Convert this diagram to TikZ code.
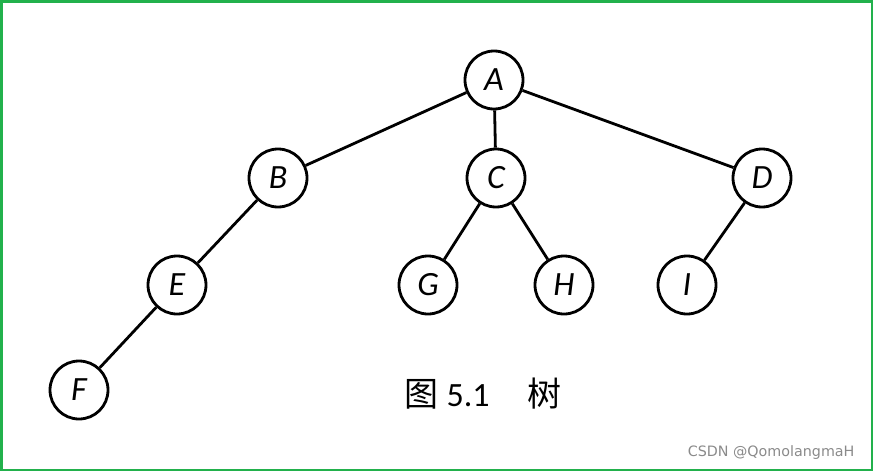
\documentclass[tikz,border=0pt]{standalone}
\usepackage{fontspec}
\setmainfont{Carlito}
\newfontfamily\cjk{Noto Sans CJK SC}
\newfontfamily\wm{DejaVu Sans}
\definecolor{framegreen}{HTML}{22B14C}
\definecolor{wmgray}{HTML}{8A8A8A}
\begin{document}
\begin{tikzpicture}[x=1pt,y=-1pt,
  tn/.style={circle,draw=black,line width=2.8pt,fill=white,minimum size=58pt,inner sep=0pt,font=\fontsize{34}{34}\selectfont\itshape},
  edge/.style={line width=2.8pt,black}]
\useasboundingbox (0,0) rectangle (873,471);
\draw[framegreen,line width=2.5pt] (1.25,1.25) rectangle (871.75,469.75);
\node[tn] (A) at (494,80) {A};
\node[tn] (B) at (278,178) {B};
\node[tn] (C) at (496,178) {C};
\node[tn] (D) at (762,178) {D};
\node[tn] (E) at (177,285) {E};
\node[tn] (G) at (428,285) {G};
\node[tn] (H) at (564,285) {H};
\node[tn] (I) at (687,285) {I};
\node[tn] (F) at (79,390) {F};
\draw[edge] (A) -- (B);
\draw[edge] (A) -- (C);
\draw[edge] (A) -- (D);
\draw[edge] (B) -- (E);
\draw[edge] (E) -- (F);
\draw[edge] (C) -- (G);
\draw[edge] (C) -- (H);
\draw[edge] (D) -- (I);
\node[font=\fontsize{34}{34}\selectfont,anchor=center] (cap) at (483,394) {{\cjk 图} 5.1\hspace{1.1em}{\cjk 树}};
\node[font=\fontsize{14.3}{14.3}\selectfont\wm,text=wmgray,anchor=east] (wm) at (858,453) {CSDN @QomolangmaH};
\end{tikzpicture}
\end{document}
